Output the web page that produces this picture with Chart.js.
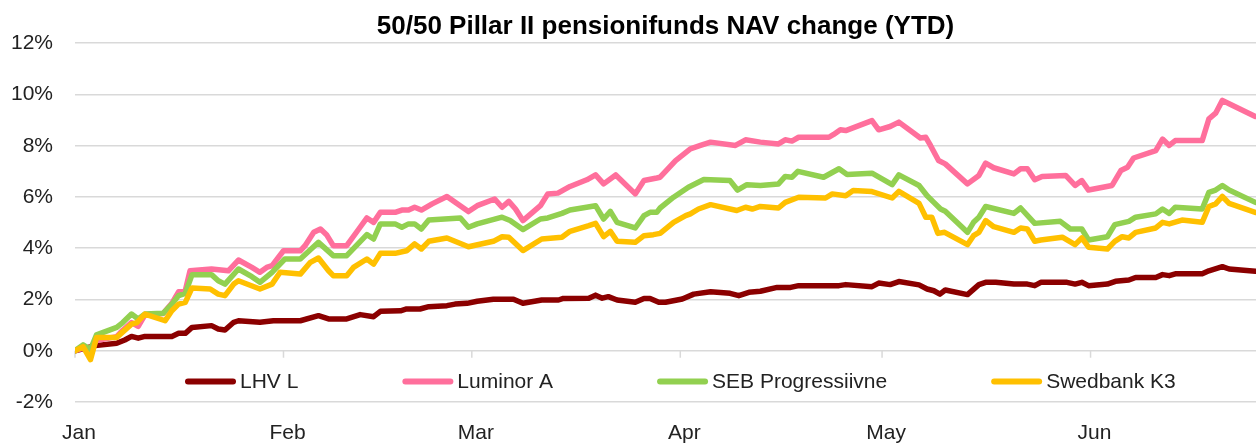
<!DOCTYPE html>
<html>
<head>
<meta charset="utf-8">
<script src="https://cdn.jsdelivr.net/npm/chart.js@4.4.1/dist/chart.umd.min.js"></script>
<style>
html, body { margin: 0; padding: 0; background: #fff; }
#wrap { width: 1256px; height: 443px; }
</style>
</head>
<body>
<div id="wrap"><canvas id="navChart"></canvas></div>
<script>
// days counted from 1 Jan, values in % (YTD NAV change)
const monthStarts = [0, 31, 59, 90, 120, 151];
const monthLabels = ['Jan', 'Feb', 'Mar', 'Apr', 'May', 'Jun'];
const yTicks = [-2, 0, 2, 4, 6, 8, 10, 12];
const lastDay = 175.6;

const lhvL = [[0,0],[3.0,0.2],[6.2,0.29],[7.4,0.42],[8.4,0.56],[9.4,0.49],[10.4,0.56],[14.4,0.56],[15.4,0.68],[16.4,0.68],[17.4,0.91],[20.3,0.98],[21.3,0.85],[22.3,0.81],[23.6,1.11],[24.3,1.17],[27.5,1.11],[29.5,1.17],[33.5,1.17],[36.2,1.37],[37.7,1.24],[40.4,1.24],[42.4,1.41],[44.4,1.33],[45.4,1.54],[48.4,1.56],[49.3,1.63],[51.3,1.63],[52.6,1.72],[55.3,1.76],[56.5,1.82],[58.3,1.85],[59.8,1.93],[62.2,2.01],[65.2,2.01],[66.6,1.85],[69.4,1.98],[71.9,1.98],[72.6,2.04],[76.4,2.05],[77.4,2.17],[78.4,2.05],[79.3,2.11],[80.6,1.98],[83.3,1.89],[84.6,2.04],[85.5,2.04],[86.8,1.89],[87.8,1.89],[90.3,2.02],[92.0,2.21],[94.5,2.3],[97.4,2.24],[98.7,2.15],[100.2,2.28],[101.9,2.32],[104.4,2.47],[106.4,2.47],[107.6,2.54],[113.6,2.54],[114.6,2.58],[118.5,2.5],[119.5,2.64],[121.2,2.58],[122.5,2.7],[125.5,2.57],[126.7,2.41],[127.7,2.34],[128.6,2.21],[129.4,2.37],[132.7,2.19],[134.4,2.58],[135.4,2.67],[136.9,2.67],[139.6,2.6],[141.6,2.6],[142.7,2.54],[143.6,2.67],[147.5,2.67],[148.7,2.6],[149.7,2.67],[150.7,2.54],[153.5,2.6],[154.7,2.71],[156.7,2.76],[157.7,2.86],[160.7,2.86],[161.7,2.97],[162.7,2.93],[163.6,3.0],[167.6,3.0],[168.6,3.12],[170.6,3.28],[171.6,3.19],[175.5,3.1]];

const luminorA = [[0,0],[1.2,0.1],[2.3,0.1],[3.2,0.4],[6.2,0.55],[7.1,0.8],[8.4,1.1],[9.4,0.95],[10.4,1.4],[13.1,1.45],[14.4,1.85],[15.4,2.3],[16.4,2.35],[17.1,3.12],[20.3,3.19],[22.8,3.12],[24.3,3.54],[26.3,3.25],[27.5,3.06],[28.5,3.25],[29.3,3.32],[31.0,3.9],[33.5,3.9],[34.2,4.1],[35.5,4.62],[36.5,4.75],[37.4,4.53],[38.4,4.1],[40.4,4.1],[42.2,4.75],[43.4,5.18],[44.4,5.01],[45.4,5.4],[47.6,5.4],[48.6,5.49],[49.6,5.49],[50.5,5.6],[51.5,5.49],[53.1,5.73],[55.3,6.02],[58.5,5.43],[59.8,5.66],[62.4,5.92],[63.5,5.6],[64.5,5.83],[65.5,5.53],[66.6,5.08],[69.2,5.66],[70.3,6.12],[71.8,6.15],[73.6,6.41],[76.1,6.67],[77.4,6.86],[78.6,6.51],[80.4,6.86],[83.3,6.12],[84.6,6.64],[86.5,6.74],[87.0,6.77],[89.3,7.42],[91.5,7.88],[93.0,8.01],[94.5,8.14],[98.2,8.01],[99.7,8.23],[101.9,8.14],[104.6,8.07],[105.6,8.23],[106.6,8.18],[107.6,8.33],[112.1,8.33],[112.8,8.44],[113.8,8.62],[114.6,8.59],[118.5,8.98],[119.5,8.62],[121.2,8.75],[122.5,8.92],[125.7,8.3],[126.5,8.33],[127.2,8.01],[128.4,7.42],[129.4,7.29],[132.7,6.51],[134.4,6.84],[135.4,7.32],[136.6,7.14],[139.6,6.9],[140.6,7.1],[141.6,7.1],[142.7,6.67],[143.8,6.8],[147.3,6.84],[148.7,6.45],[149.7,6.64],[150.7,6.27],[154.2,6.45],[155.5,7.03],[156.5,7.16],[157.4,7.52],[160.7,7.81],[161.7,8.26],[162.7,8.01],[163.6,8.2],[167.6,8.2],[168.6,9.05],[169.6,9.27],[170.6,9.77],[171.6,9.64],[175.5,9.14]];

const sebProgressiivne = [[0,0],[1.2,0.23],[2.3,0.05],[3.2,0.62],[6.2,0.91],[7.1,1.1],[8.4,1.43],[9.4,1.24],[10.4,1.43],[13.1,1.46],[14.4,1.82],[15.4,2.15],[16.4,2.24],[17.4,2.97],[20.3,2.97],[21.3,2.73],[22.3,2.6],[24.3,3.19],[26.3,2.89],[27.5,2.67],[29.3,3.06],[31.2,3.58],[33.5,3.58],[36.2,4.23],[38.4,3.71],[40.4,3.71],[43.4,4.53],[44.4,4.36],[45.4,4.95],[47.6,4.95],[48.6,4.82],[49.6,4.95],[50.5,4.95],[51.5,4.75],[52.6,5.1],[57.3,5.18],[58.5,4.82],[59.8,4.95],[63.5,5.21],[64.7,5.08],[66.6,4.73],[69.2,5.14],[70.3,5.18],[72.4,5.36],[73.6,5.49],[77.4,5.66],[78.6,5.14],[79.6,5.44],[80.6,5.01],[83.3,4.79],[84.6,5.27],[85.5,5.4],[86.5,5.4],[87.0,5.57],[89.0,5.99],[91.2,6.38],[93.5,6.68],[97.4,6.64],[98.5,6.27],[99.9,6.48],[101.9,6.45],[104.6,6.51],[105.6,6.8],[106.6,6.77],[107.5,7.0],[111.3,6.77],[113.6,7.1],[114.8,6.88],[118.5,6.93],[121.5,6.48],[122.5,6.86],[125.5,6.45],[126.7,6.05],[127.7,5.79],[128.7,5.53],[129.4,5.44],[132.7,4.62],[133.6,5.01],[134.4,5.21],[135.4,5.63],[139.6,5.36],[140.6,5.57],[142.7,4.97],[146.5,5.05],[148.0,4.75],[149.7,4.75],[150.7,4.32],[153.5,4.45],[154.6,4.92],[156.7,5.05],[157.7,5.21],[160.7,5.34],[161.7,5.53],[162.7,5.36],[163.6,5.6],[167.6,5.53],[168.6,6.18],[169.6,6.27],[170.6,6.45],[171.6,6.27],[175.5,5.79]];

const swedbankK3 = [[0,0],[1.2,0.16],[2.3,-0.35],[3.2,0.52],[6.2,0.52],[8.4,1.04],[9.2,1.1],[10.4,1.43],[13.4,1.17],[14.4,1.56],[15.4,1.82],[16.4,1.89],[17.4,2.45],[20.1,2.41],[21.3,2.21],[22.3,2.15],[23.6,2.6],[24.3,2.73],[27.5,2.41],[29.3,2.6],[30.5,3.06],[33.5,2.99],[35.0,3.45],[36.2,3.62],[37.7,3.12],[38.4,2.93],[40.4,2.93],[41.4,3.25],[43.4,3.58],[44.4,3.38],[45.4,3.8],[47.6,3.8],[49.3,3.9],[50.5,4.17],[51.5,3.97],[52.6,4.27],[55.3,4.4],[58.5,4.06],[62.2,4.27],[63.5,4.45],[64.5,4.43],[66.6,3.91],[69.4,4.36],[72.4,4.43],[73.6,4.66],[76.4,4.88],[77.4,4.97],[78.6,4.45],[79.6,4.66],[80.6,4.27],[83.3,4.23],[84.6,4.49],[86.0,4.53],[87.0,4.58],[89.0,5.01],[90.8,5.27],[91.5,5.34],[92.7,5.53],[94.5,5.7],[98.4,5.47],[99.7,5.6],[100.7,5.53],[101.9,5.63],[104.6,5.57],[105.6,5.79],[107.6,5.99],[111.6,5.96],[112.6,6.12],[114.6,6.05],[115.7,6.25],[118.5,6.21],[121.5,5.96],[122.5,6.22],[125.5,5.75],[126.5,5.21],[127.4,5.21],[128.3,4.58],[129.3,4.62],[132.7,4.14],[133.6,4.49],[134.4,4.62],[135.4,5.08],[136.6,4.84],[139.6,4.62],[140.6,4.79],[141.6,4.75],[142.7,4.27],[143.6,4.32],[146.8,4.43],[148.7,4.14],[149.7,4.4],[150.7,4.04],[153.5,3.97],[154.6,4.27],[155.7,4.45],[156.7,4.4],[157.7,4.62],[160.7,4.79],[161.7,5.01],[162.7,4.95],[164.6,5.1],[167.6,5.01],[168.6,5.63],[169.6,5.73],[170.6,6.02],[171.6,5.75],[175.5,5.4]];

const FONT = "'Liberation Sans', Arial, Helvetica, sans-serif";
const toXY = arr => arr.map(p => ({ x: p[0], y: p[1] }));

function series(label, arr, color, order) {
    return {
        label: label, data: toXY(arr), borderColor: color, backgroundColor: color,
        borderWidth: 5.5, pointRadius: 0, tension: 0, fill: false,
        borderJoinStyle: 'round', borderCapStyle: 'round', order: order
    };
}

// small tick marks on the 0% line at each month start
const zeroTicks = {
    id: 'zeroTicks',
    beforeDatasetsDraw(chart) {
        const ctx = chart.ctx, x = chart.scales.x, y0 = chart.scales.y.getPixelForValue(0);
        ctx.save();
        ctx.strokeStyle = '#d9d9d9';
        ctx.lineWidth = 1.5;
        x.ticks.forEach(t => {
            const px = x.getPixelForValue(t.value);
            ctx.beginPath(); ctx.moveTo(px, y0); ctx.lineTo(px, y0 + 7); ctx.stroke();
        });
        ctx.restore();
    }
};

// legend drawn inside the plot, just below the 0% line
const insideLegend = {
    id: 'insideLegend',
    afterDraw(chart) {
        const ctx = chart.ctx, area = chart.chartArea;
        const y = chart.scales.y.getPixelForValue(-1.2);
        let x = area.left + 110;
        ctx.save();
        ctx.font = '21px ' + FONT;
        ctx.textBaseline = 'middle';
        ctx.textAlign = 'left';
        chart.data.datasets.forEach(ds => {
            ctx.strokeStyle = ds.borderColor;
            ctx.lineWidth = 6;
            ctx.lineCap = 'round';
            ctx.beginPath(); ctx.moveTo(x + 3, y); ctx.lineTo(x + 48, y); ctx.stroke();
            ctx.fillStyle = '#222';
            ctx.fillText(ds.label, x + 55, y + 1);
            x += 55 + ctx.measureText(ds.label).width + 104;
        });
        ctx.restore();
    }
};

new Chart(document.getElementById('navChart'), {
    type: 'line',
    data: {
        datasets: [
            series('LHV L', lhvL, '#8b0000', 4),
            series('Luminor A', luminorA, '#ff6f9c', 3),
            series('SEB Progressiivne', sebProgressiivne, '#92d050', 2),
            series('Swedbank K3', swedbankK3, '#ffc000', 1)
        ]
    },
    options: {
        responsive: true,
        maintainAspectRatio: false,
        animation: false,
        layout: { padding: { left: 11, right: 0, top: 0, bottom: 0 } },
        plugins: {
            legend: { display: false },
            tooltip: { enabled: false },
            title: {
                display: true,
                text: '50/50 Pillar II pensionifunds NAV change (YTD)',
                fullSize: false,
                color: '#000',
                font: { family: FONT, size: 26, weight: 'bold' },
                padding: { top: 11, bottom: 1 }
            }
        },
        scales: {
            x: {
                type: 'linear',
                min: 0,
                max: lastDay,
                afterBuildTicks: axis => { axis.ticks = monthStarts.map(v => ({ value: v })); },
                afterFit: axis => { axis.height = 41; },
                ticks: {
                    callback: v => monthLabels[monthStarts.indexOf(v)],
                    color: '#222',
                    font: { family: FONT, size: 21 },
                    padding: 19,
                    labelOffset: 4,
                    maxRotation: 0,
                    autoSkip: false
                },
                grid: { display: false, drawTicks: false },
                border: { display: false }
            },
            y: {
                min: -2,
                max: 12,
                afterBuildTicks: axis => { axis.ticks = yTicks.map(v => ({ value: v })); },
                afterFit: axis => { axis.width = 64; },
                ticks: {
                    callback: v => v + '%',
                    color: '#222',
                    font: { family: FONT, size: 21 },
                    padding: 22
                },
                grid: { color: '#d9d9d9', lineWidth: 1.5, drawTicks: false },
                border: { display: false }
            }
        }
    },
    plugins: [zeroTicks, insideLegend]
});
</script>
</body>
</html>
